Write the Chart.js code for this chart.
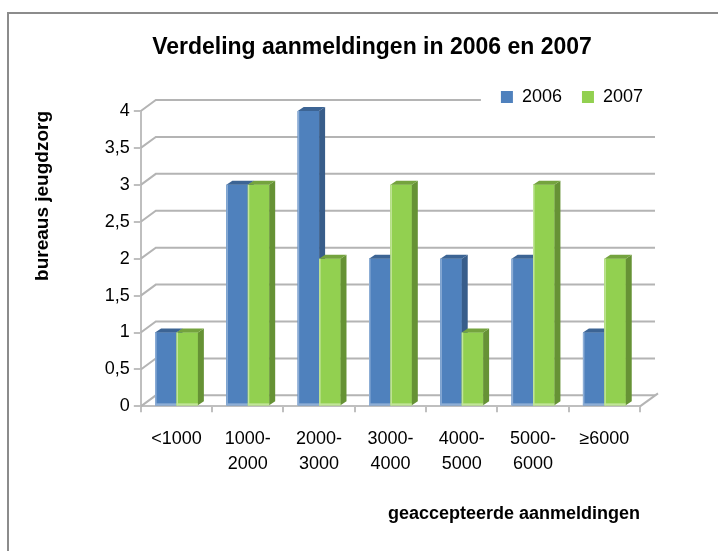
<!DOCTYPE html>
<html>
<head>
<meta charset="utf-8">
<script src="https://cdn.jsdelivr.net/npm/chart.js@4.4.1/dist/chart.umd.min.js"></script>
<style>
  body { margin: 0; background: #fff; }
  canvas { display: block; }
</style>
</head>
<body>
<canvas id="chart" width="718" height="551"></canvas>
<script>
// Waarden
const categories = ['<1000', ['1000-', '2000'], ['2000-', '3000'], ['3000-', '4000'], ['4000-', '5000'], ['5000-', '6000'], '≥6000'];
const values2006 = [1, 3, 4, 2, 2, 2, 1];
const values2007 = [1, 3, 2, 3, 1, 3, 2];
const seriesNames = ['2006', '2007'];

const titleText = 'Verdeling aanmeldingen in 2006 en 2007';
const fontFamily = '"Liberation Sans", Arial, sans-serif';

// kleuren voor de 3D-zijkanten (per dataset)
const faces = [
    { side: '#385d8a', top: '#3c6494', light: '#8eaed6' },
    { side: '#669235', top: '#74a33e', light: '#c2e59a' }
];
const wall = { dx: 15, dy: -11 };   // diepte van de achterwand
const barDepth = { dx: 6, dy: -4 }; // diepte van de kolommen
const legendShift = 5;              // legenda iets lager, over de bovenste rasterlijn

const decor3d = {
    id: 'decor3d',
    afterLayout(chart) {
        chart.legend.top += legendShift;
        chart.legend.bottom += legendShift;
    },
    beforeDraw(chart) {
        const ctx = chart.ctx;
        ctx.save();
        // rand
        ctx.strokeStyle = '#8c8c8c';
        ctx.lineWidth = 2;
        ctx.beginPath();
        ctx.moveTo(8, chart.height);
        ctx.lineTo(8, 13);
        ctx.lineTo(chart.width, 13);
        ctx.stroke();
        // titel
        ctx.fillStyle = '#000';
        ctx.font = 'bold 23px ' + fontFamily;
        ctx.textAlign = 'center';
        ctx.textBaseline = 'middle';
        ctx.fillText(titleText, 372, 48);
        ctx.restore();
    },
    beforeDatasetsDraw(chart) {
        const { ctx, chartArea, scales: { y } } = chart;
        const boxes = chart.legend.legendHitBoxes || [];
        ctx.save();
        ctx.strokeStyle = '#b4b4b4';
        ctx.lineWidth = 2;
        y.ticks.forEach(t => {
            const py = y.getPixelForValue(t.value);
            let end = chartArea.right + wall.dx;
            if (boxes.length && Math.abs(py + wall.dy - (boxes[0].top + boxes[0].height / 2)) < 14) {
                end = boxes[0].left - 20;
            }
            ctx.beginPath();
            ctx.moveTo(chartArea.left, py);
            ctx.lineTo(chartArea.left + wall.dx, py + wall.dy);
            ctx.lineTo(end, py + wall.dy);
            ctx.stroke();
        });
        ctx.beginPath();
        ctx.moveTo(chartArea.right, chartArea.bottom);
        ctx.lineTo(chartArea.right + wall.dx + 3, chartArea.bottom + wall.dy - 2);
        ctx.stroke();
        ctx.restore();
    },
    afterDatasetsDraw(chart) {
        const ctx = chart.ctx;
        ctx.save();
        // per reeks opnieuw tekenen zodat 2007 over de zijkant van 2006 valt
        chart.data.datasets.forEach((ds, i) => {
            const f = faces[i];
            chart.getDatasetMeta(i).data.forEach(bar => {
                bar.draw(ctx);
                const { x, y, base, width } = bar.getProps(['x', 'y', 'base', 'width'], true);
                const l = x - width / 2, r = x + width / 2;
                // zijkant
                ctx.fillStyle = f.side;
                ctx.beginPath();
                ctx.moveTo(r, y);
                ctx.lineTo(r + barDepth.dx, y + barDepth.dy);
                ctx.lineTo(r + barDepth.dx, base + barDepth.dy);
                ctx.lineTo(r, base);
                ctx.closePath();
                ctx.fill();
                // bovenkant
                ctx.fillStyle = f.top;
                ctx.beginPath();
                ctx.moveTo(l, y);
                ctx.lineTo(l + barDepth.dx, y + barDepth.dy);
                ctx.lineTo(r + barDepth.dx, y + barDepth.dy);
                ctx.lineTo(r, y);
                ctx.closePath();
                ctx.fill();
                // lichte rand links en onder
                ctx.fillStyle = f.light;
                ctx.fillRect(l, y, 1.5, base - y);
                ctx.fillRect(l, base - 2, width, 2);
            });
        });
        ctx.restore();
    }
};

Chart.defaults.font.family = fontFamily;
Chart.defaults.color = '#000';

new Chart(document.getElementById('chart'), {
    type: 'bar',
    data: {
        labels: categories,
        datasets: [
            { label: seriesNames[0], data: values2006, backgroundColor: '#4f81bd' },
            { label: seriesNames[1], data: values2007, backgroundColor: '#92d050' }
        ]
    },
    options: {
        responsive: false,
        animation: false,
        layout: { padding: { top: 63, left: 0, right: 55, bottom: 0 } },
        datasets: {
            bar: { categoryPercentage: 0.6, barPercentage: 1.0, borderWidth: 0 }
        },
        plugins: {
            tooltip: { enabled: false },
            title: { display: false },
            legend: {
                position: 'top',
                align: 'end',
                labels: {
                    boxWidth: 12,
                    boxHeight: 12,
                    padding: 20,
                    font: { size: 18 }
                }
            }
        },
        scales: {
            x: {
                grid: { drawOnChartArea: false, tickLength: 6, color: '#bfbfbf', lineWidth: 2 },
                border: { color: '#bfbfbf', width: 2 },
                ticks: { font: { size: 18, lineHeight: 1.39 }, padding: 14, maxRotation: 0, autoSkip: false },
                title: {
                    display: true,
                    text: 'geaccepteerde aanmeldingen',
                    align: 'end',
                    font: { size: 18, weight: 'bold' },
                    padding: { top: 13, bottom: 26 }
                }
            },
            y: {
                min: 0,
                max: 4,
                grid: { drawOnChartArea: false, tickLength: 7, color: '#bfbfbf', lineWidth: 2 },
                border: { color: '#bfbfbf', width: 2 },
                ticks: {
                    stepSize: 0.5,
                    padding: 4,
                    font: { size: 18 },
                    callback: v => String(v).replace('.', ',')
                },
                title: {
                    display: true,
                    text: 'bureaus jeugdzorg',
                    align: 'end',
                    font: { size: 19, weight: 'bold' },
                    padding: { top: 31, bottom: 47 }
                }
            },
            // lege ruimte rechts, zodat de legenda verder naar rechts staat
            spacer: {
                position: 'right',
                display: true,
                grid: { display: false },
                border: { display: false },
                ticks: { display: false },
                afterFit: s => { s.width = 23; }
            }
        }
    },
    plugins: [decor3d]
});
</script>
</body>
</html>
